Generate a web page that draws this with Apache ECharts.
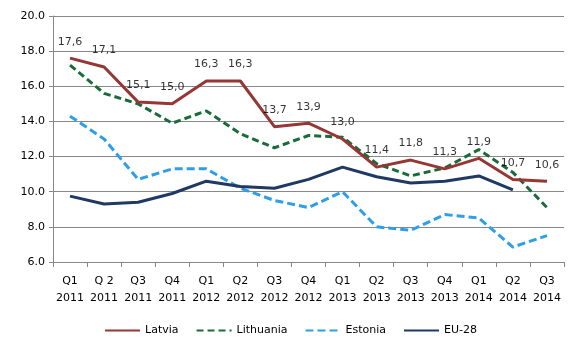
<!DOCTYPE html>
<html><head><meta charset="utf-8">
<script src="https://cdn.jsdelivr.net/npm/echarts@6/dist/echarts.min.js"></script>
<style>html,body{margin:0;padding:0;background:#fff}#c{width:581px;height:338px}</style>
</head><body><div id="c"></div>
<script>
const categories = ["Q1\n2011","Q 2\n2011","Q3\n2011","Q4\n2011","Q1\n2012","Q2\n2012","Q3\n2012","Q4\n2012","Q1\n2013","Q2\n2013","Q3\n2013","Q4\n2013","Q1\n2014","Q2\n2014","Q3\n2014"];
const latvia = [17.6,17.1,15.1,15.0,16.3,16.3,13.7,13.9,13.0,11.4,11.8,11.3,11.9,10.7,10.6];
const lithuania = [17.2,15.6,15.0,13.9,14.6,13.3,12.5,13.2,13.1,11.6,10.9,11.35,12.4,11.1,9.1];
const estonia = [14.3,13.0,10.7,11.3,11.3,10.2,9.5,9.1,10.0,8.0,7.8,8.7,8.5,6.85,7.5];
const eu28 = [9.75,9.3,9.4,9.9,10.6,10.3,10.2,10.7,11.4,10.85,10.5,10.6,10.9,10.1,null];
const seriesNames = ["Latvia","Lithuania","Estonia","EU-28"];

const FONT = "DejaVu Sans";
const chart = echarts.init(document.getElementById('c'));
chart.setOption({
  animation:false,
  textStyle:{fontFamily:FONT},
  grid:{left:53,right:17,top:16,bottom:76,containLabel:false},
  legend:{
    top:320, left:'center', itemWidth:35, itemHeight:10, itemGap:17,
    itemStyle:{opacity:0},
    textStyle:{fontFamily:FONT,fontSize:11,color:'#000'},
    data:seriesNames
  },
  xAxis:{
    type:'category', data:categories, boundaryGap:true,
    axisLine:{lineStyle:{color:'#888',width:1}},
    axisTick:{show:true,length:5,lineStyle:{color:'#888'}},
    axisLabel:{color:'#000',fontFamily:FONT,fontSize:11,lineHeight:17,margin:11,interval:0}
  },
  yAxis:{
    type:'value', min:6, max:20, interval:2,
    axisLine:{show:true,lineStyle:{color:'#888'}},
    axisTick:{show:true,length:4,lineStyle:{color:'#888'}},
    splitLine:{lineStyle:{color:'#888',width:1}},
    axisLabel:{color:'#000',fontFamily:FONT,fontSize:11,margin:8,formatter:v=>v.toFixed(1)}
  },
  series:[
    {name:seriesNames[0],type:'line',data:latvia,symbol:'none',z:4,
     lineStyle:{color:'#953735',width:3},itemStyle:{color:'#953735'}},
    {name:seriesNames[1],type:'line',data:lithuania,symbol:'none',z:3,
     lineStyle:{color:'#1a6b3a',width:3,type:[7,4]},itemStyle:{color:'#1a6b3a'}},
    {name:seriesNames[2],type:'line',data:estonia,symbol:'none',z:2,
     lineStyle:{color:'#2e9ee8',width:3,type:[8,4]},itemStyle:{color:'#2e9ee8'}},
    {name:seriesNames[3],type:'line',data:eu28,symbol:'none',z:3,
     lineStyle:{color:'#1f3864',width:3},itemStyle:{color:'#1f3864'}},
    {name:'latvia-labels',type:'scatter',data:latvia,symbolSize:0,z:5,silent:true,
     itemStyle:{color:'transparent'},
     label:{show:true,position:'top',distance:11,color:'#000',fontFamily:FONT,fontSize:11,
       formatter:p=>p.value.toFixed(1).replace('.',',')}}
  ]
});
</script></body></html>
